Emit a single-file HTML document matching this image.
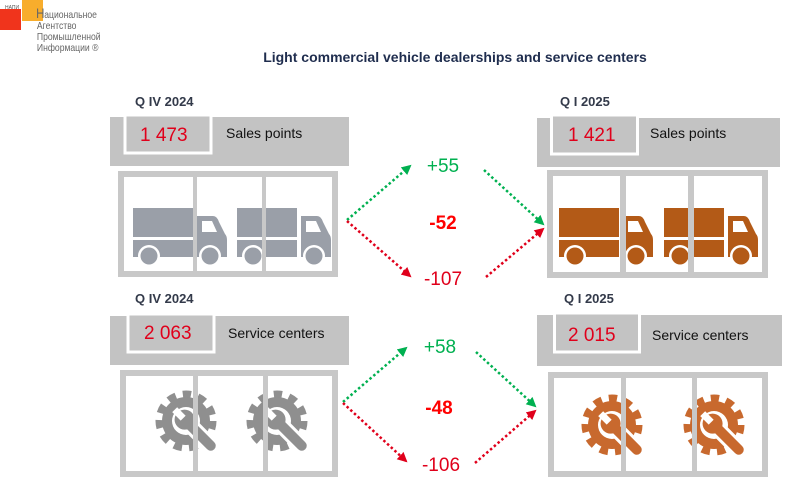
<!DOCTYPE html>
<html><head><meta charset="utf-8"><style>
html,body{margin:0;padding:0;background:#fff;width:799px;height:486px;overflow:hidden}
svg{display:block}
text{font-family:"Liberation Sans",sans-serif}
</style></head><body>
<svg width="799" height="486" viewBox="0 0 799 486" xmlns="http://www.w3.org/2000/svg">
<defs>
<marker id="ag" viewBox="0 0 10 10" refX="8" refY="5" markerWidth="4" markerHeight="4" orient="auto"><path d="M0,0 L10,5 L0,10 z" fill="#00b050"/></marker>
<marker id="ar" viewBox="0 0 10 10" refX="8" refY="5" markerWidth="4" markerHeight="4" orient="auto"><path d="M0,0 L10,5 L0,10 z" fill="#e0001b"/></marker>
<g id="truck">
<rect x="0" y="0" width="60" height="29"/>
<rect x="0" y="32" width="60" height="17"/>
<path d="M64,8 H80 Q84,8 86,14 L92,26 Q94,28 94,32 V49 H64 Z"/>
<circle cx="16" cy="48" r="11" fill="#fff"/>
<circle cx="16" cy="48" r="8.5"/>
<circle cx="77" cy="48" r="11" fill="#fff"/>
<circle cx="77" cy="48" r="8.5"/>
<path d="M69,13 H79 L84,24 H69 Z" fill="#fff"/>
</g>
</defs>

<!-- logo -->
<rect x="0" y="9" width="21" height="21" fill="#f0341c"/>
<rect x="22" y="0" width="21" height="21" fill="#f8ad2c"/>
<text x="5" y="9" font-size="5" fill="#555">НАПИ</text>
<g font-size="10.5" fill="#666" transform="scale(0.82,1)">
<text x="44" y="18" font-size="14">Н</text>
<text x="54" y="18">ациональное</text>
<text x="45" y="29">Агентство</text>
<text x="45" y="40">Промышленной</text>
<text x="45" y="51">Информации ®</text>
</g>

<text x="455" y="62" font-size="14" font-weight="bold" fill="#1f2d4e" text-anchor="middle">Light commercial vehicle dealerships and service centers</text>

<g font-size="13" font-weight="bold" fill="#333a4a">
<text x="135" y="106">Q IV 2024</text>
<text x="560" y="106">Q I 2025</text>
<text x="135" y="303">Q IV 2024</text>
<text x="564" y="303">Q I 2025</text>
</g>

<g fill="#c3c3c3">
<rect x="110" y="117" width="239" height="49"/>
<rect x="537" y="118" width="243" height="49"/>
<rect x="110" y="316" width="239" height="49"/>
<rect x="537" y="315" width="245" height="51"/>
</g>
<g fill="#c3c3c3" stroke="#fff" stroke-width="3">
<rect x="125" y="115" width="86" height="38"/>
<rect x="551.5" y="115" width="86" height="39"/>
<rect x="128" y="314" width="86" height="38"/>
<rect x="554.5" y="313" width="85" height="39"/>
</g>
<g font-size="19" fill="#e0001b">
<text x="140" y="141">1 473</text>
<text x="568" y="141">1 421</text>
<text x="144" y="339">2 063</text>
<text x="568" y="341">2 015</text>
</g>
<g font-size="14" fill="#111">
<text x="226" y="138">Sales points</text>
<text x="650" y="138">Sales points</text>
<text x="228" y="338">Service centers</text>
<text x="652" y="340">Service centers</text>
</g>

<g fill="#fff" stroke="#c8c8c8" stroke-width="6">
<rect x="121" y="174" width="214" height="100"/>
<rect x="550" y="173" width="215" height="102"/>
<rect x="123" y="373" width="212" height="101"/>
<rect x="551" y="375" width="214" height="99"/>
</g>

<g fill="#9a9fa8">
<use href="#truck" x="133" y="208"/>
<use href="#truck" x="237" y="208"/>
</g>
<g fill="#b35a17">
<use href="#truck" x="559" y="208"/>
<use href="#truck" x="664" y="208"/>
</g>

<!-- gears -->
<g id="g1" transform="translate(186,421)">
<circle r="26" fill="none" stroke="#8f8f8f" stroke-width="9" stroke-dasharray="8 6.9"/>
<circle r="24" fill="#8f8f8f"/>
<circle r="14" fill="#fff"/>
<g transform="rotate(-45)">
<rect x="-8" y="-4" width="16" height="46" rx="8" fill="#fff"/>
<rect x="-5" y="0" width="10" height="40" rx="5" fill="#8f8f8f"/>
<circle cx="0" cy="-2" r="10" fill="#8f8f8f"/>
<rect x="-3.5" y="-16" width="7" height="12" fill="#fff"/>
</g>
</g>
<g transform="translate(91,0)"><use href="#g1"/></g>

<g id="g2" transform="translate(612,425)">
<circle r="26" fill="none" stroke="#c8692e" stroke-width="9" stroke-dasharray="8 6.9"/>
<circle r="24" fill="#c8692e"/>
<circle r="14" fill="#fff"/>
<g transform="rotate(-45)">
<rect x="-8" y="-4" width="16" height="46" rx="8" fill="#fff"/>
<rect x="-5" y="0" width="10" height="40" rx="5" fill="#c8692e"/>
<circle cx="0" cy="-2" r="10" fill="#c8692e"/>
<rect x="-3.5" y="-16" width="7" height="12" fill="#fff"/>
</g>
</g>
<g transform="translate(102,0)"><use href="#g2"/></g>

<g fill="#c8c8c8">
<rect x="193" y="174" width="4" height="100"/>
<rect x="262" y="174" width="4" height="100"/>
<rect x="620" y="173" width="6" height="102"/>
<rect x="688" y="173" width="6" height="102"/>
<rect x="193" y="373" width="5" height="101"/>
<rect x="263" y="373" width="5" height="101"/>
<rect x="621" y="375" width="5" height="99"/>
<rect x="692" y="375" width="5" height="101"/>
</g>

<g stroke-width="2.5" stroke-dasharray="2.5 2.5" fill="none">
<line x1="347" y1="220" x2="410" y2="166" stroke="#00b050" marker-end="url(#ag)"/>
<line x1="347" y1="221" x2="410" y2="276" stroke="#e0001b" marker-end="url(#ar)"/>
<line x1="484" y1="170" x2="543" y2="224" stroke="#00b050" marker-end="url(#ag)"/>
<line x1="486" y1="277" x2="543" y2="229" stroke="#e0001b" marker-end="url(#ar)"/>
<line x1="343" y1="402" x2="406" y2="348" stroke="#00b050" marker-end="url(#ag)"/>
<line x1="343" y1="403" x2="406" y2="461" stroke="#e0001b" marker-end="url(#ar)"/>
<line x1="476" y1="352" x2="535" y2="406" stroke="#00b050" marker-end="url(#ag)"/>
<line x1="475" y1="463" x2="535" y2="411" stroke="#e0001b" marker-end="url(#ar)"/>
</g>

<g font-size="19" text-anchor="middle">
<text x="443" y="172" fill="#00b050">+55</text>
<text x="443" y="229" fill="#ff0000" font-weight="bold">-52</text>
<text x="443" y="285" fill="#e0001b">-107</text>
<text x="440" y="353" fill="#00b050">+58</text>
<text x="439" y="414" fill="#ff0000" font-weight="bold">-48</text>
<text x="441" y="471" fill="#e0001b">-106</text>
</g>
</svg>
</body></html>
